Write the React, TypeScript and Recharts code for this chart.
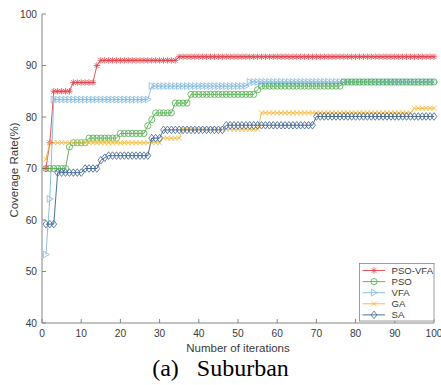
import React from 'react';
import { LineChart, Line, XAxis, YAxis, Label } from 'recharts';

// iteration index 1..100
const iterations = Array.from({ length: 100 }, (_, i) => i + 1);
const xTicks = [0, 10, 20, 30, 40, 50, 60, 70, 80, 90, 100];
const yTicks = [40, 50, 60, 70, 80, 90, 100];

// coverage values, one per iteration
const psoVfa = [
  70, 75, 85, 85, 85, 85, 85, 86.7, 86.7, 86.7,
  86.7, 86.7, 86.7, 90, 91, 91, 91, 91, 91, 91,
  91, 91, 91, 91, 91, 91, 91, 91, 91, 91,
  91, 91, 91, 91, 91.7, 91.7, 91.7, 91.7, 91.7, 91.7,
  91.7, 91.7, 91.7, 91.7, 91.7, 91.7, 91.7, 91.7, 91.7, 91.7,
  91.7, 91.7, 91.7, 91.7, 91.7, 91.7, 91.7, 91.7, 91.7, 91.7,
  91.7, 91.7, 91.7, 91.7, 91.7, 91.7, 91.7, 91.7, 91.7, 91.7,
  91.7, 91.7, 91.7, 91.7, 91.7, 91.7, 91.7, 91.7, 91.7, 91.7,
  91.7, 91.7, 91.7, 91.7, 91.7, 91.7, 91.7, 91.7, 91.7, 91.7,
  91.7, 91.7, 91.7, 91.7, 91.7, 91.7, 91.7, 91.7, 91.7, 91.7,
];
const pso = [
  70, 70, 70, 70, 70, 70, 74.2, 75, 75, 75,
  75, 75.9, 75.9, 75.9, 75.9, 75.9, 75.9, 75.9, 75.9, 76.8,
  76.8, 76.8, 76.8, 76.8, 76.8, 76.8, 78.3, 79.5, 80.8, 80.8,
  80.8, 80.8, 80.8, 82.7, 82.7, 82.7, 82.7, 84.4, 84.4, 84.4,
  84.4, 84.4, 84.4, 84.4, 84.4, 84.4, 84.4, 84.4, 84.4, 84.4,
  84.4, 84.4, 84.4, 84.4, 85.3, 86, 86, 86, 86, 86,
  86, 86, 86, 86, 86, 86, 86, 86, 86, 86,
  86, 86, 86, 86, 86, 86, 86.8, 86.8, 86.8, 86.8,
  86.8, 86.8, 86.8, 86.8, 86.8, 86.8, 86.8, 86.8, 86.8, 86.8,
  86.8, 86.8, 86.8, 86.8, 86.8, 86.8, 86.8, 86.8, 86.8, 86.8,
];
const vfa = [
  53.3, 64.1, 83.4, 83.4, 83.4, 83.4, 83.4, 83.4, 83.4, 83.4,
  83.4, 83.4, 83.4, 83.4, 83.4, 83.4, 83.4, 83.4, 83.4, 83.4,
  83.4, 83.4, 83.4, 83.4, 83.4, 83.4, 83.4, 86, 86, 86,
  86, 86, 86, 86, 86, 86, 86, 86, 86, 86,
  86, 86, 86, 86, 86, 86, 86, 86, 86, 86,
  86, 86, 86.8, 86.8, 86.8, 86.8, 86.8, 86.8, 86.8, 86.8,
  86.8, 86.8, 86.8, 86.8, 86.8, 86.8, 86.8, 86.8, 86.8, 86.8,
  86.8, 86.8, 86.8, 86.8, 86.8, 86.8, 86.8, 86.8, 86.8, 86.8,
  86.8, 86.8, 86.8, 86.8, 86.8, 86.8, 86.8, 86.8, 86.8, 86.8,
  86.8, 86.8, 86.8, 86.8, 86.8, 86.8, 86.8, 86.8, 86.8, 86.8,
];
const ga = [
  71.8, 75, 75, 75, 75, 75, 75, 75, 75, 75,
  75, 75, 75, 75, 75, 75, 75, 75, 75, 75,
  75, 75, 75, 75, 75, 75, 75, 75, 75, 75,
  75.9, 75.9, 75.9, 75.9, 75.9, 77.6, 77.6, 77.6, 77.6, 77.6,
  77.6, 77.6, 77.6, 77.6, 77.6, 77.6, 77.6, 77.6, 77.6, 77.6,
  77.6, 77.6, 77.6, 77.6, 77.6, 80.8, 80.8, 80.8, 80.8, 80.8,
  80.8, 80.8, 80.8, 80.8, 80.8, 80.8, 80.8, 80.8, 80.8, 80.8,
  80.8, 80.8, 80.8, 80.8, 80.8, 80.8, 80.8, 80.8, 80.8, 80.8,
  80.8, 80.8, 80.8, 80.8, 80.8, 80.8, 80.8, 80.8, 80.8, 80.8,
  80.8, 80.8, 80.8, 80.8, 81.7, 81.7, 81.7, 81.7, 81.7, 81.7,
];
const sa = [
  59.2, 59.2, 59.2, 69.2, 69.2, 69.2, 69.2, 69.2, 69.2, 69.2,
  70, 70, 70, 70, 71.6, 72.1, 72.5, 72.5, 72.5, 72.5,
  72.5, 72.5, 72.5, 72.5, 72.5, 72.5, 72.5, 75.9, 75.9, 75.9,
  77.5, 77.5, 77.5, 77.5, 77.5, 77.5, 77.5, 77.5, 77.5, 77.5,
  77.5, 77.5, 77.5, 77.5, 77.5, 77.5, 78.4, 78.4, 78.4, 78.4,
  78.4, 78.4, 78.4, 78.4, 78.4, 78.4, 78.4, 78.4, 78.4, 78.4,
  78.4, 78.4, 78.4, 78.4, 78.4, 78.4, 78.4, 78.4, 78.4, 80.1,
  80.1, 80.1, 80.1, 80.1, 80.1, 80.1, 80.1, 80.1, 80.1, 80.1,
  80.1, 80.1, 80.1, 80.1, 80.1, 80.1, 80.1, 80.1, 80.1, 80.1,
  80.1, 80.1, 80.1, 80.1, 80.1, 80.1, 80.1, 80.1, 80.1, 80.1,
];

const chartData = iterations.map((iter, i) => ({
  iter,
  psoVfa: psoVfa[i],
  pso: pso[i],
  vfa: vfa[i],
  ga: ga[i],
  sa: sa[i],
}));

type Shape = 'star' | 'circle' | 'triangle' | 'cross' | 'diamond';

// legend order
const series: { key: string; name: string; color: string; shape: Shape }[] = [
  { key: 'psoVfa', name: 'PSO-VFA', color: '#e2434b', shape: 'star' },
  { key: 'pso', name: 'PSO', color: '#4daf4a', shape: 'circle' },
  { key: 'vfa', name: 'VFA', color: '#80b7df', shape: 'triangle' },
  { key: 'ga', name: 'GA', color: '#f4b738', shape: 'cross' },
  { key: 'sa', name: 'SA', color: '#3a6190', shape: 'diamond' },
];
// drawing order (green sits over light blue, dark blue over yellow)
const drawOrder = ['psoVfa', 'vfa', 'pso', 'ga', 'sa'];

const axisColor = '#858585';
const textColor = '#3a3a3a';
const font = 'Liberation Sans, Arial, Helvetica, sans-serif';

const Marker = ({ shape, cx, cy, color }: { shape: Shape; cx: number; cy: number; color: string }) => {
  const sw = 0.8;
  if (shape === 'star') {
    const r = 3.2;
    const d = r * 0.72;
    return (
      <g stroke={color} strokeWidth={sw} fill="none">
        <line x1={cx - r} y1={cy} x2={cx + r} y2={cy} />
        <line x1={cx} y1={cy - r} x2={cx} y2={cy + r} />
        <line x1={cx - d} y1={cy - d} x2={cx + d} y2={cy + d} />
        <line x1={cx - d} y1={cy + d} x2={cx + d} y2={cy - d} />
      </g>
    );
  }
  if (shape === 'circle') {
    return <circle cx={cx} cy={cy} r={3.1} stroke={color} strokeWidth={sw} fill="none" />;
  }
  if (shape === 'triangle') {
    return (
      <polygon
        points={`${cx + 3.4},${cy} ${cx - 2.6},${cy - 3.4} ${cx - 2.6},${cy + 3.4}`}
        stroke={color}
        strokeWidth={sw}
        fill="none"
      />
    );
  }
  if (shape === 'cross') {
    const r = 2.5;
    return (
      <g stroke={color} strokeWidth={sw}>
        <line x1={cx - r} y1={cy - r} x2={cx + r} y2={cy + r} />
        <line x1={cx - r} y1={cy + r} x2={cx + r} y2={cy - r} />
      </g>
    );
  }
  return (
    <polygon
      points={`${cx},${cy - 3.8} ${cx + 2.9},${cy} ${cx},${cy + 3.8} ${cx - 2.9},${cy}`}
      stroke={color}
      strokeWidth={sw}
      fill="none"
    />
  );
};

const LegendBox = () => (
  <svg
    width={76}
    height={59}
    style={{ position: 'absolute', left: 359, top: 263, overflow: 'visible' }}
  >
    <rect x={0.5} y={0.5} width={74.5} height={57.5} fill="#fff" stroke={axisColor} strokeWidth={0.8} />
    {series.map((s, i) => {
      const y = 7.5 + i * 11.1;
      return (
        <g key={s.key}>
          <line x1={3.5} y1={y} x2={26} y2={y} stroke={s.color} strokeWidth={0.9} />
          <Marker shape={s.shape} cx={15} cy={y} color={s.color} />
          <text x={32.5} y={y} dominantBaseline="central" fontSize={9.6} fontFamily={font} fill={textColor}>
            {s.name}
          </text>
        </g>
      );
    })}
  </svg>
);

export default function App() {
  return (
    <div style={{ position: 'absolute', left: 0, top: 0, width: 441, height: 385, background: '#fff' }}>
      <LineChart
        width={441}
        height={385}
        data={chartData}
        margin={{ top: 14, right: 7, left: 0, bottom: 32 }}
      >
        <XAxis
          xAxisId="b"
          dataKey="iter"
          type="number"
          domain={[0, 100]}
          ticks={xTicks}
          interval={0}
          height={30}
          tickSize={-4}
          tickMargin={11}
          stroke={axisColor}
          tick={{ fill: textColor, fontSize: 10.2, fontFamily: font }}
        >
          <Label
            value="Number of iterations"
            position="insideBottom"
            offset={1}
            style={{ fill: textColor, fontSize: 11.5, fontFamily: font }}
          />
        </XAxis>
        <XAxis
          xAxisId="t"
          orientation="top"
          dataKey="iter"
          type="number"
          domain={[0, 100]}
          ticks={xTicks}
          interval={0}
          height={0}
          tick={false}
          tickSize={-4}
          stroke={axisColor}
        />
        <YAxis
          yAxisId="l"
          type="number"
          domain={[40, 100]}
          ticks={yTicks}
          interval={0}
          width={42}
          tickSize={-4}
          tickMargin={9}
          stroke={axisColor}
          tick={{ fill: textColor, fontSize: 10.2, fontFamily: font }}
        >
          <Label
            content={() => (
              <text
                x={14}
                y={170}
                transform="rotate(-90 14 170)"
                textAnchor="middle"
                dominantBaseline="central"
                fontSize={11.5}
                fontFamily={font}
                fill={textColor}
              >
                Coverage Rate(%)
              </text>
            )}
          />
        </YAxis>
        <YAxis
          yAxisId="r"
          orientation="right"
          type="number"
          domain={[40, 100]}
          ticks={yTicks}
          interval={0}
          width={0}
          tick={false}
          tickSize={-4}
          stroke={axisColor}
        />
        {drawOrder.map((k) => {
          const s = series.find((x) => x.key === k)!;
          return (
            <Line
              key={s.key}
              xAxisId="b"
              yAxisId="l"
              type="linear"
              dataKey={s.key}
              name={s.name}
              stroke={s.color}
              strokeWidth={0.9}
              isAnimationActive={false}
              activeDot={false}
              dot={(p: any) => (
                <Marker key={`${s.key}-${p.index}`} shape={s.shape} cx={p.cx} cy={p.cy} color={s.color} />
              )}
            />
          );
        })}
      </LineChart>
      <LegendBox />
      <div
        style={{
          position: 'absolute',
          left: 0,
          top: 356,
          width: 441,
          textAlign: 'center',
          fontFamily: 'Liberation Serif, Times New Roman, serif',
          fontSize: 24,
          lineHeight: '24px',
          whiteSpace: 'pre',
          color: '#000',
        }}
      >
        {'(a)   Suburban'}
      </div>
    </div>
  );
}
